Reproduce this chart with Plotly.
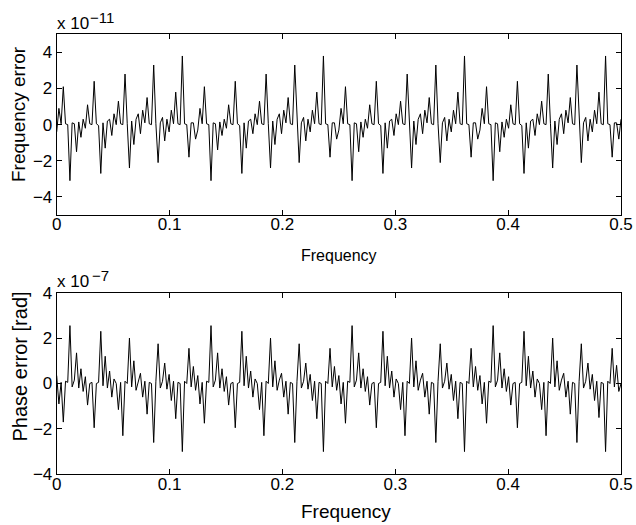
import numpy as np
import plotly.graph_objects as go

# ---------------- data ----------------
# frequency grid 0 .. 0.5
n_points = 257
freq = np.linspace(0.0, 0.5, n_points)

# Frequency error, units of 1e-11
freq_err_p1 = [
    -0.4, 0.9, 0.05, 2.1, 0.05, 0.0, -3.1, 0.1, 0.05, -1.5, 0.15, -0.7, 0.3, -0.2, 1.1, 0.05,
    0.0, 2.4, 0.05, -0.05, -2.7, 0.1, -1.3, 0.2, 0.3, -0.6, 0.6, 0.0, 1.3, 0.05, 0.0, 2.8,
    0.05, -2.4, 0.2, -1.1, 0.3, 0.6, -0.5, 0.8, 0.1, 1.5, 0.05, 0.0, 3.3, 0.05, -2.1, 0.1,
    0.4, -0.9, 0.3, -0.4, 0.8, 0.05, 1.8, 0.05, 0.0, 3.8, 0.05, 0.0, -1.8, 0.1, 0.1, -0.8,
]
freq_err_p2 = [
    -0.3, 0.9, 0.05, 2.1, 0.05, 0.0, -3.1, 0.1, 0.05, -1.4, 0.15, -0.6, 0.3, -0.2, 1.1, 0.05,
    0.0, 2.4, 0.05, -0.05, -2.7, 0.1, -1.3, 0.2, 0.3, -0.5, 0.6, 0.0, 1.3, 0.05, 0.0, 2.8,
    0.05, -2.4, 0.2, -1.1, 0.3, 0.6, -0.5, 0.8, 0.1, 1.5, 0.05, 0.0, 3.3, 0.05, -2.1, 0.1,
    0.4, -0.9, 0.3, -0.4, 0.8, 0.05, 1.8, 0.05, 0.0, 3.8, 0.05, 0.0, -1.8, 0.1, 0.1, -0.8,
]
freq_err_p3 = [
    -0.3, 0.9, 0.05, 2.1, 0.05, 0.0, -3.1, 0.1, 0.05, -1.5, 0.15, -0.7, 0.3, -0.2, 1.1, 0.05,
    0.0, 2.4, 0.05, -0.05, -2.7, 0.1, -1.3, 0.2, 0.3, -0.6, 0.6, 0.0, 1.3, 0.05, 0.0, 2.8,
    0.05, -2.4, 0.2, -1.1, 0.3, 0.6, -0.5, 0.8, 0.1, 1.5, 0.05, 0.0, 3.3, 0.05, -2.1, 0.1,
    0.4, -0.9, 0.3, -0.4, 0.8, 0.05, 1.8, 0.05, 0.0, 3.8, 0.05, 0.0, -1.8, 0.1, 0.1, -0.8,
]
freq_err_p4 = [
    -0.3, 0.9, 0.05, 2.1, 0.05, 0.0, -3.1, 0.1, 0.05, -1.5, 0.15, -0.7, 0.3, -0.2, 1.1, 0.05,
    0.0, 2.4, 0.05, -0.05, -2.7, 0.1, -1.3, 0.2, 0.3, -0.6, 0.6, 0.0, 1.3, 0.05, 0.0, 2.8,
    0.05, -2.4, 0.2, -1.1, 0.3, 0.6, -0.5, 0.8, 0.1, 1.5, 0.05, 0.0, 3.3, 0.05, -2.1, 0.1,
    0.4, -0.9, 0.3, -0.4, 0.8, 0.05, 1.8, 0.05, 0.0, 3.8, 0.05, 0.0, -1.8, 0.1, 0.1, -0.8,
]
freq_err_end = [0.3]

# Phase error, units of 1e-7 rad
phase_err_p1 = [
    0.35, -0.9, 0.05, -1.7, 0.1, 0.05, 2.55, -0.15, 0.15, 1.35, -0.2, 0.65, -0.35, 0.3, -0.95, 0.0,
    0.05, -1.95, 0.0, 0.05, 2.3, -0.1, 1.2, -0.2, 0.55, -0.6, 0.2, 0.0, -1.15, 0.05, -2.3, 0.1,
    0.0, 2.0, -0.15, 1.0, -0.3, 0.15, 0.45, -0.6, 0.1, -1.35, 0.05, 0.0, -2.6, 0.1, 1.75, -0.2,
    0.1, 0.9, -0.25, 0.4, -0.75, 0.1, -1.55, 0.05, 0.0, -3.0, 0.1, 0.0, 1.55, -0.15, 0.75, -0.3,
]
phase_err_p2 = [
    0.35, -0.9, 0.05, -1.75, 0.1, 0.05, 2.55, -0.15, 0.15, 1.35, -0.2, 0.65, -0.35, 0.3, -0.95, 0.0,
    0.05, -1.95, 0.0, 0.05, 2.3, -0.1, 1.2, -0.2, 0.55, -0.6, 0.2, 0.0, -1.15, 0.05, -2.3, 0.1,
    0.0, 2.0, -0.15, 1.0, -0.3, 0.15, 0.45, -0.6, 0.1, -1.35, 0.05, 0.0, -2.6, 0.1, 1.75, -0.2,
    0.1, 0.9, -0.25, 0.4, -0.75, 0.1, -1.55, 0.05, 0.0, -3.0, 0.1, 0.0, 1.55, -0.15, 0.75, -0.3,
]
phase_err_p3 = [
    0.35, -0.9, 0.05, -1.75, 0.1, 0.05, 2.55, -0.15, 0.15, 1.35, -0.2, 0.65, -0.35, 0.3, -0.95, 0.0,
    0.05, -1.95, 0.0, 0.05, 2.3, -0.1, 1.2, -0.2, 0.55, -0.6, 0.2, 0.0, -1.15, 0.05, -2.3, 0.1,
    0.0, 2.0, -0.15, 1.0, -0.3, 0.15, 0.45, -0.6, 0.1, -1.35, 0.05, 0.0, -2.6, 0.1, 1.75, -0.2,
    0.1, 0.9, -0.25, 0.4, -0.75, 0.1, -1.55, 0.05, 0.0, -3.0, 0.1, 0.0, 1.55, -0.15, 0.75, -0.3,
]
phase_err_p4 = [
    0.35, -0.9, 0.05, -1.75, 0.1, 0.05, 2.55, -0.15, 0.15, 1.35, -0.2, 0.65, -0.35, 0.3, -0.95, 0.0,
    0.05, -1.95, 0.0, 0.05, 2.3, -0.1, 1.2, -0.2, 0.55, -0.6, 0.2, 0.0, -1.15, 0.05, -2.3, 0.1,
    0.0, 2.0, -0.15, 1.0, -0.3, 0.15, 0.45, -0.6, 0.1, -1.35, 0.05, 0.0, -2.6, 0.1, 1.75, -0.2,
    0.1, 0.9, -0.25, 0.4, -0.75, 0.1, -1.5, 0.05, 0.0, -3.0, 0.1, 0.0, 1.55, -0.15, 0.8, -0.35,
]
phase_err_end = [0.0]

x_tick_vals = [0, 0.1, 0.2, 0.3, 0.4, 0.5]
x_tick_text = ["0", "0.1", "0.2", "0.3", "0.4", "0.5"]
y1_tick_vals = [-4, -2, 0, 2, 4]
y1_tick_text = ["\u22124", "\u22122", "0", "2", "4"]
y2_tick_vals = [-4, -2, 0, 2, 4]
y2_tick_text = ["\u22124", "\u22122", "0", "2", "4"]

freq_err = freq_err_p1 + freq_err_p2 + freq_err_p3 + freq_err_p4 + freq_err_end
phase_err = phase_err_p1 + phase_err_p2 + phase_err_p3 + phase_err_p4 + phase_err_end

# ---------------- figure ----------------
W, H = 636, 525
FONT = "Liberation Sans, Arial, Helvetica, sans-serif"


def fx(p):
    return p / W


def fy(p):
    return 1 - p / H


fig = go.Figure()
fig.add_trace(go.Scatter(x=freq, y=freq_err, mode="lines",
                         line=dict(color="black", width=1),
                         xaxis="x", yaxis="y", hoverinfo="skip", showlegend=False))
fig.add_trace(go.Scatter(x=freq, y=phase_err, mode="lines",
                         line=dict(color="black", width=1),
                         xaxis="x2", yaxis="y2", hoverinfo="skip", showlegend=False))

axis_common = dict(showline=True, linecolor="black", linewidth=1, mirror="ticks",
                   ticks="inside", ticklen=5, tickwidth=1, tickcolor="black",
                   showgrid=False, zeroline=False, automargin=False,
                   tickfont=dict(family=FONT, size=17, color="black"))

left, right = 56.7, 621.0
fig.update_layout(
    width=W, height=H,
    margin=dict(l=0, r=0, t=0, b=0, pad=0),
    paper_bgcolor="white", plot_bgcolor="white", showlegend=False,
    xaxis=dict(domain=[fx(left), fx(right)], range=[0, 0.5], anchor="y",
               tickvals=x_tick_vals, ticktext=x_tick_text,
               ticklabelstandoff=-6, **axis_common),
    yaxis=dict(domain=[fy(215.0), fy(34.3)], range=[-5, 5], anchor="x",
               tickvals=y1_tick_vals, ticktext=y1_tick_text, **axis_common),
    xaxis2=dict(domain=[fx(left), fx(right)], range=[0, 0.5], anchor="y2",
                tickvals=x_tick_vals, ticktext=x_tick_text,
                ticklabelstandoff=-6, **axis_common),
    yaxis2=dict(domain=[fy(474.3), fy(292.7)], range=[-4, 4], anchor="x2",
                tickvals=y2_tick_vals, ticktext=y2_tick_text, **axis_common),
)


def ann(text, x, y, size, xanchor="center", yanchor="middle", angle=0):
    fig.add_annotation(text=text, x=fx(x), y=fy(y), xref="paper", yref="paper",
                       showarrow=False, xanchor=xanchor, yanchor=yanchor,
                       textangle=angle, font=dict(family=FONT, size=size, color="black"))


# axis labels
ann("Frequency error", 18.5, 114.5, 19, angle=-90)
ann("Phase error [rad]", 19.0, 366.5, 20, angle=-90)
ann("Frequency", 339.0, 255.0, 16)
ann("Frequency", 346.0, 511.0, 19)

# exponent labels
ann("x 10", 55.0, 23.0, 17, xanchor="left")
ann("\u221211", 87.5, 17.0, 15, xanchor="left")
ann("x 10", 55.0, 281.0, 17, xanchor="left")
ann("\u22127", 90.0, 275.0, 15, xanchor="left")

fig.write_html("out.html")
